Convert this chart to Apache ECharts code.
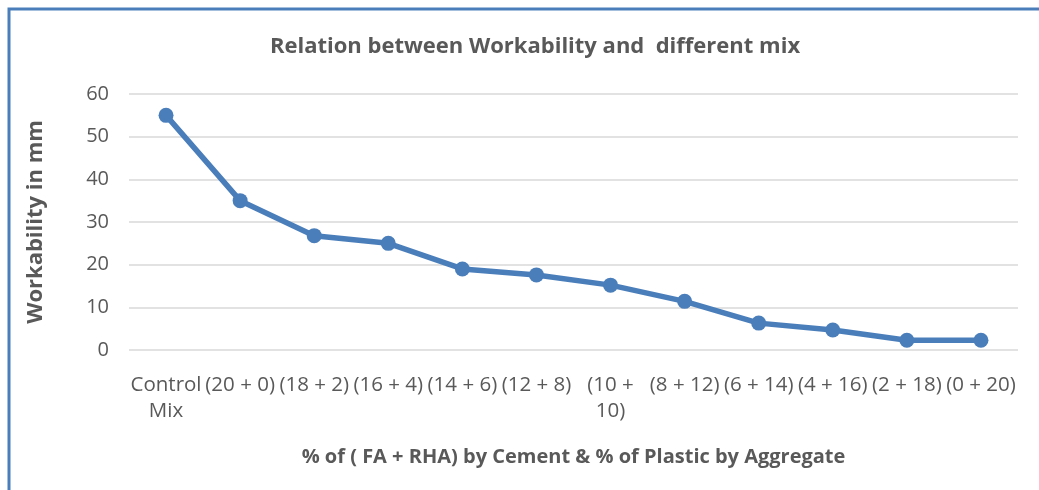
<!DOCTYPE html>
<html style="height: 100%">
<head>
    <meta charset="UTF-8">
    <title>Relation between Workability and different mix</title>
    <script src="https://cdn.jsdelivr.net/npm/echarts@6/dist/echarts.min.js"></script>
    <style>
        #main {
            width: 1039px;
            height: 490px;
        }
    </style>
</head>
<body style="margin: 0; padding: 0; background: #fff;">
    <div id="main"></div>

    <script>
        // categories (tick labels) and workability values
        var mixes = ['Control\nMix', '(20 + 0)', '(18 + 2)', '(16 + 4)', '(14 + 6)', '(12 + 8)',
                     '(10 +\n10)', '(8 + 12)', '(6 + 14)', '(4 + 16)', '(2 + 18)', '(0 + 20)'];
        var workability = [55, 35, 26.8, 25, 19, 17.6, 15.2, 11.4, 6.3, 4.7, 2.3, 2.3];

        var textColor = '#595959';
        var fontFamily = 'Open Sans, Liberation Sans, sans-serif';

        var option = {
            backgroundColor: '#ffffff',
            textStyle: { fontFamily: fontFamily },
            title: {
                text: 'Relation between Workability and  different mix',
                left: 530,
                textAlign: 'center',
                top: 31,
                textStyle: { color: textColor, fontSize: 22, fontWeight: 'bold', fontFamily: fontFamily }
            },
            grid: {
                left: 129,
                right: 21,
                top: 94,
                bottom: 140
            },
            xAxis: {
                type: 'category',
                data: mixes,
                boundaryGap: true,
                name: '% of ( FA + RHA) by Cement & % of Plastic by Aggregate',
                nameLocation: 'middle',
                nameGap: 97,
                nameTextStyle: { color: textColor, fontSize: 20, fontWeight: 'bold' },
                axisLine: { show: false },
                axisTick: { show: false },
                axisLabel: {
                    color: textColor,
                    fontSize: 20.5,
                    margin: 22,
                    lineHeight: 26,
                    interval: 0
                }
            },
            yAxis: {
                type: 'value',
                min: 0,
                max: 60,
                interval: 10,
                name: 'Workability in mm',
                nameLocation: 'middle',
                nameGap: 82,
                nameTextStyle: { color: textColor, fontSize: 22, fontWeight: 'bold' },
                axisLine: { show: false },
                axisTick: { show: false },
                axisLabel: { color: textColor, fontSize: 20, margin: 20 },
                splitLine: { lineStyle: { color: '#d9d9d9', width: 1.5 } }
            },
            series: [
                {
                    name: 'Workability',
                    type: 'line',
                    data: workability,
                    symbol: 'circle',
                    symbolSize: 15,
                    itemStyle: { color: '#4a7ebb' },
                    lineStyle: { color: '#4a7ebb', width: 5.5 }
                }
            ],
            graphic: [
                {
                    type: 'rect',
                    shape: { x: 9, y: 9, width: 1200, height: 700 },
                    style: { fill: null, stroke: '#4a7ebb', lineWidth: 3 },
                    silent: true
                }
            ]
        };

        var chart = echarts.init(document.getElementById('main'));
        chart.setOption(option);
    </script>
</body>
</html>
